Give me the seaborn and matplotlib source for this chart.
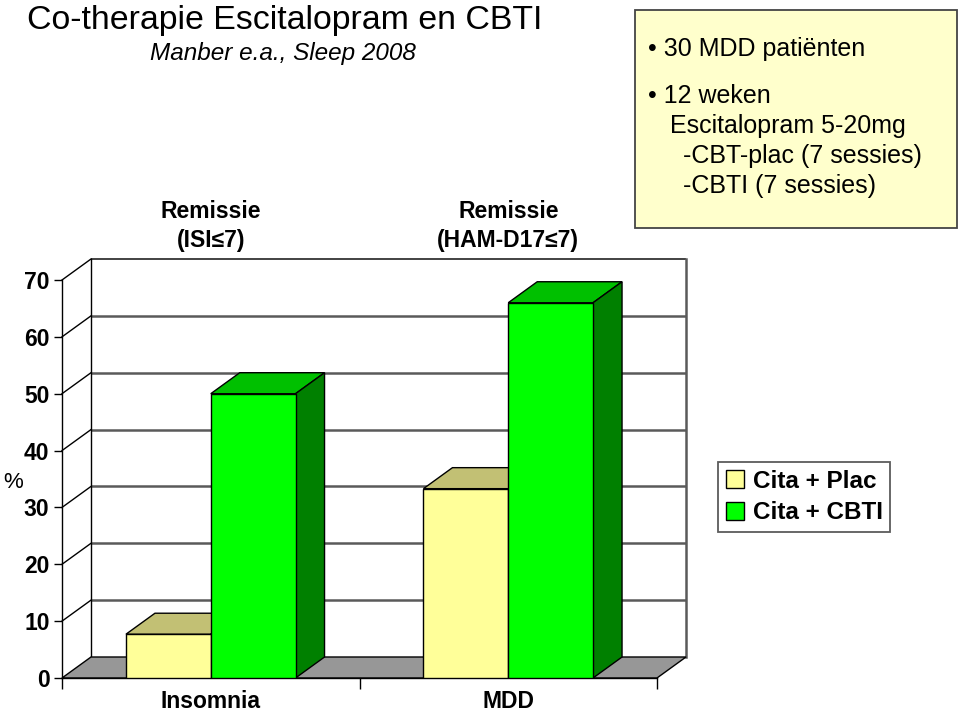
import matplotlib
matplotlib.use('Agg')
import matplotlib.pyplot as plt
import seaborn as sns
import pandas as pd
from matplotlib.patches import Polygon, Rectangle, Patch
import matplotlib.transforms as mtransforms

# ---------------- data ----------------
categories = ['Insomnia', 'MDD']
groups = ['Cita + Plac', 'Cita + CBTI']
cita_plac = [7.7, 33.3]
cita_cbti = [50.0, 66.0]
yticks = [0, 10, 20, 30, 40, 50, 60, 70]
headers = ['Remissie\n(ISI\u22647)', 'Remissie\n(HAM-D17\u22647)']
title = 'Co-therapie Escitalopram en CBTI'
subtitle = 'Manber e.a., Sleep 2008'
box_lines = ['\u2022 30 MDD pati\u00ebnten', '\u2022 12 weken', 'Escitalopram 5-20mg',
             '-CBT-plac (7 sessies)', '-CBTI (7 sessies)']

# ---------------- style ----------------
front_colors = ['#FFFF99', '#00FF00']
top_colors = ['#C2C074', '#00C000']
side_colors = ['#9A9A55', '#008000']
floor_color = '#979797'
grid_color = '#5A5A5A'

plt.rcParams['font.family'] = ['Liberation Sans', 'DejaVu Sans']

df = pd.DataFrame({
    'cat': categories * 2,
    'group': [groups[0]] * len(categories) + [groups[1]] * len(categories),
    'val': cita_plac + cita_cbti,
})

W, H = 960, 717
fig = plt.figure(figsize=(W / 100, H / 100), dpi=100)
ax = fig.add_axes([62 / W, 1 - 678 / H, 595 / W, 398 / H])
ax.set_facecolor('none')

sns.barplot(data=df, x='cat', y='val', hue='group', order=categories, hue_order=groups,
            palette=front_colors, width=0.57, saturation=1, edgecolor='black',
            linewidth=1.0, errorbar=None, ax=ax, zorder=3)

ax.set_xlim(-0.5, 1.5)
ax.set_ylim(0, 70)

# 3D depth offsets in data units
dx = 29 / 595 * 2.0
dy = 21 / 398 * 70.0
x0, x1 = ax.get_xlim()
ytop = ax.get_ylim()[1]

# floor
ax.add_patch(Polygon([(x0, 0), (x1, 0), (x1 + dx, dy), (x0 + dx, dy)], closed=True,
                     facecolor=floor_color, edgecolor='black', lw=1.0, zorder=1.2,
                     clip_on=False))
# back wall gridlines and left wall diagonals
for k in yticks[1:]:
    ax.plot([x0 + dx, x1 + dx], [k + dy, k + dy],
            color=(grid_color if k < ytop else '#222222'),
            lw=(1.8 if k < ytop else 1.2), zorder=1.0, clip_on=False, solid_capstyle='butt')
    ax.plot([x0, x0 + dx], [k, k + dy], color='black', lw=1.0, zorder=1.0, clip_on=False)
ax.plot([x0 + dx, x0 + dx], [dy, ytop + dy], color='black', lw=1.0, zorder=1.0, clip_on=False)
ax.plot([x1 + dx, x1 + dx], [dy, ytop + dy], color=grid_color, lw=1.8, zorder=1.0, clip_on=False)

# bar depth faces derived from the seaborn bars
for i, cont in enumerate(ax.containers):
    for p in cont:
        bx, bw, bh = p.get_x(), p.get_width(), p.get_height()
        ax.add_patch(Polygon([(bx, bh), (bx + bw, bh), (bx + bw + dx, bh + dy), (bx + dx, bh + dy)],
                             closed=True, facecolor=top_colors[i], edgecolor='black', lw=1.0,
                             zorder=2.5, clip_on=False))
        ax.add_patch(Polygon([(bx + bw, 0), (bx + bw + dx, dy), (bx + bw + dx, bh + dy), (bx + bw, bh)],
                             closed=True, facecolor=side_colors[i], edgecolor='black', lw=1.0,
                             zorder=2.5, clip_on=False))

# axes / ticks
for s in ['top', 'right']:
    ax.spines[s].set_visible(False)
ax.spines['left'].set_color('black')
ax.spines['bottom'].set_color('black')
ax.spines['left'].set_linewidth(1.0)
ax.spines['bottom'].set_linewidth(1.0)
ax.set_xlabel('')
ax.set_ylabel('')
ax.set_yticks(yticks)
ax.set_yticklabels([str(v) for v in yticks], fontweight='bold')
ax.tick_params(axis='y', direction='out', length=6, width=1, labelsize=16.5, pad=3, colors='black')
ax.set_xticks(range(len(categories)))
ax.set_xticklabels(categories, fontweight='bold')
ax.tick_params(axis='x', which='major', length=0, labelsize=16.5, pad=9)
ax.set_xticks([x0, 0.5, x1], minor=True)
ax.tick_params(axis='x', which='minor', direction='out', length=8, width=1, color='black')

# legend
if ax.get_legend() is not None:
    ax.get_legend().remove()
handles = [Patch(facecolor=c, edgecolor='black', lw=1.0) for c in front_colors]
leg = ax.legend(handles, groups, loc='upper left', bbox_to_anchor=(718 / W, 1 - 462 / H),
                bbox_transform=fig.transFigure, frameon=True, fancybox=False,
                edgecolor='#333333', prop={'weight': 'bold', 'size': 17.5},
                handlelength=0.75, handleheight=0.75, handletextpad=0.35,
                borderpad=0.32, labelspacing=0.35, borderaxespad=0)
leg.get_frame().set_linewidth(1.3)

# headers above bar groups
blend = mtransforms.blended_transform_factory(ax.transData, fig.transFigure)
for i, htxt in enumerate(headers):
    ax.text(i, 1 - 226 / H, htxt, transform=blend, ha='center', va='center',
            fontsize=16.5, fontweight='bold', linespacing=1.3)

# titles
fig.text(27 / W, 1 - 29 / H, title, fontsize=24.4, va='baseline', ha='left')
fig.text(150 / W, 1 - 60 / H, subtitle, fontsize=17.5, style='italic', va='baseline', ha='left')
fig.text(3 / W, 1 - 483 / H, '%', fontsize=16, va='center', ha='left')

# info box
fig.patches.append(Rectangle((635 / W, 1 - 228 / H), 322 / W, 218 / H, transform=fig.transFigure,
                             facecolor='#FFFFCC', edgecolor='#444444', lw=1.3, zorder=0))
box_x = [648, 648, 670, 683, 683]
box_y = [56, 103, 133, 163, 193]
for t, bxp, byp in zip(box_lines, box_x, box_y):
    fig.text(bxp / W, 1 - byp / H, t, fontsize=18, va='baseline', ha='left')

fig.savefig('out.png', dpi=100)
